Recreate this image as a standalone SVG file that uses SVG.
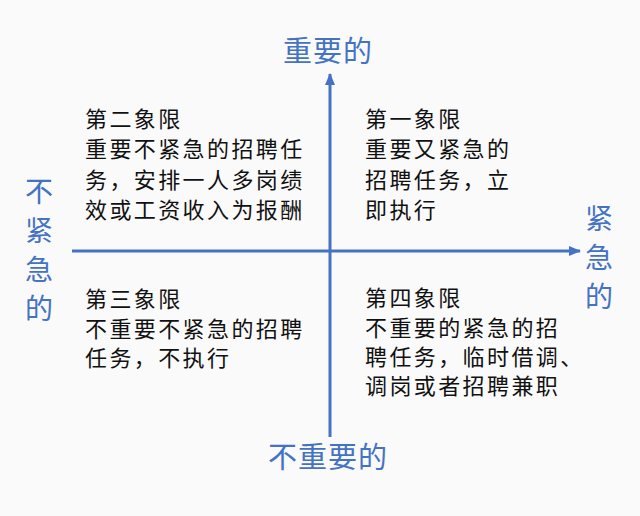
<svg xmlns="http://www.w3.org/2000/svg" width="640" height="516" viewBox="0 0 640 516">
<style>
.ax{stroke:#4472C4;stroke-width:3;fill:none}
.lbl{font-family:"Noto Sans CJK SC","Noto Sans",sans-serif;font-size:29px;fill:#4472C4;letter-spacing:1px}
.v{font-family:"Noto Sans CJK SC","Noto Sans",sans-serif;font-size:28px;fill:#4472C4;text-anchor:middle}
.q{font-family:"Noto Sans CJK SC","Noto Sans",sans-serif;font-size:22px;fill:#111;letter-spacing:2.4px}
</style>
<defs>
<marker id="ah" viewBox="0 0 12 10" refX="11" refY="5" markerWidth="12" markerHeight="10" markerUnits="userSpaceOnUse" orient="auto">
<path d="M0,0 L12,5 L0,10 Z" fill="#4472C4"/>
</marker>
</defs>
<rect width="640" height="516" fill="#fafafa"/>
<g id="connectors">
<line class="ax" x1="330" y1="437" x2="330" y2="74" marker-end="url(#ah)"/>
<line class="ax" x1="72" y1="251" x2="580" y2="251" marker-end="url(#ah)"/>
</g>
<g id="label-top"><text class="lbl" x="283" y="62">重要的</text></g>
<g id="label-bottom"><text class="lbl" x="268" y="468">不重要的</text></g>
<g id="label-left">
<text class="v" x="39" y="202">不</text>
<text class="v" x="39" y="241">紧</text>
<text class="v" x="39" y="280">急</text>
<text class="v" x="39" y="319">的</text>
</g>
<g id="label-right">
<text class="v" x="599" y="229">紧</text>
<text class="v" x="599" y="268">急</text>
<text class="v" x="599" y="307">的</text>
</g>
<g id="q2">
<text class="q" x="85" y="127">第二象限</text>
<text class="q" x="85" y="157">重要不紧急的招聘任</text>
<text class="q" x="85" y="188">务，安排一人多岗绩</text>
<text class="q" x="85" y="218">效或工资收入为报酬</text>
</g>
<g id="q1">
<text class="q" x="365" y="127">第一象限</text>
<text class="q" x="365" y="157">重要又紧急的</text>
<text class="q" x="365" y="188">招聘任务，立</text>
<text class="q" x="365" y="218">即执行</text>
</g>
<g id="q3">
<text class="q" x="85" y="307">第三象限</text>
<text class="q" x="85" y="337">不重要不紧急的招聘</text>
<text class="q" x="85" y="366">任务，不执行</text>
</g>
<g id="q4">
<text class="q" x="365" y="306">第四象限</text>
<text class="q" x="365" y="336">不重要的紧急的招</text>
<text class="q" x="365" y="365">聘任务，临时借调、</text>
<text class="q" x="365" y="394">调岗或者招聘兼职</text>
</g>
</svg>
